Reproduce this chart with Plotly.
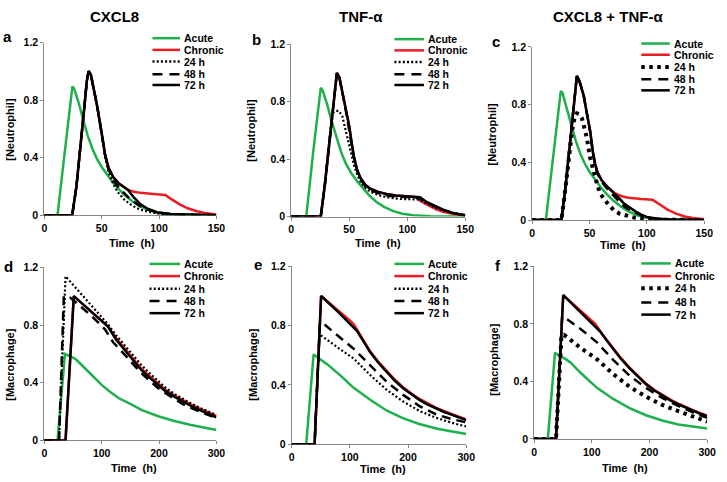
import plotly.graph_objects as go

# ---------------- data ----------------
PANEL_TITLES = ["CXCL8", "TNF-α", "CXCL8 + TNF-α"]
PANEL_LETTERS = ["a", "b", "c", "d", "e", "f"]
SERIES = ["Acute", "Chronic", "24 h", "48 h", "72 h"]
Y_LABELS = ["[Neutrophil]", "[Macrophage]"]
X_TICKS_N = [0, 50, 100, 150]
X_TICKS_M = [0, 100, 200, 300]
Y_TICKS = [0, 0.4, 0.8, 1.2]
Y_TICK_TEXT = ["0", "0.4", "0.8", "1.2"]

# panel a  (CXCL8, neutrophil)
A_ACUTE_T = [0, 11.5, 18, 24.5, 26, 30, 34, 38, 42, 46, 50, 55, 60, 65, 70, 77, 84, 91, 98, 110, 150]
A_ACUTE_Y = [0, 0, 0.45, 0.895, 0.88, 0.78, 0.66, 0.55, 0.46, 0.39, 0.335, 0.28, 0.225, 0.18, 0.14, 0.095, 0.06, 0.035, 0.018, 0.005, 0]
A_72_T = [0, 24.3, 28, 32, 35, 37, 38.6, 40.5, 43, 46, 50, 53, 56, 60, 65, 70, 73, 78, 84, 90, 98, 110, 130, 150]
A_72_Y = [0, 0, 0.2, 0.5, 0.76, 0.93, 1.0, 0.98, 0.89, 0.76, 0.57, 0.42, 0.33, 0.265, 0.22, 0.19, 0.175, 0.123, 0.075, 0.045, 0.02, 0.008, 0.002, 0]
A_CHR_T = [0, 24.3, 28, 32, 35, 37, 38.6, 40.5, 43, 46, 50, 53, 56, 60, 65, 70, 73, 78, 84, 95, 105.5, 110, 118, 125, 133, 140, 150]
A_CHR_Y = [0, 0, 0.2, 0.5, 0.76, 0.93, 1.0, 0.98, 0.89, 0.76, 0.57, 0.42, 0.33, 0.265, 0.22, 0.19, 0.175, 0.163, 0.155, 0.147, 0.14, 0.115, 0.075, 0.048, 0.027, 0.015, 0.005]
A_24_T = [0, 24.3, 28, 32, 35, 37, 38.6, 40.5, 43, 46, 50, 53, 56, 60, 64, 70, 76, 83, 90, 100, 115, 150]
A_24_Y = [0, 0, 0.2, 0.5, 0.76, 0.93, 1.0, 0.98, 0.89, 0.76, 0.57, 0.40, 0.30, 0.22, 0.16, 0.105, 0.07, 0.04, 0.025, 0.01, 0.003, 0]
A_48_T = [0, 24.3, 28, 32, 35, 37, 38.6, 40.5, 43, 46, 50, 53, 56, 60, 65, 70, 75, 83, 90, 100, 115, 150]
A_48_Y = [0, 0, 0.2, 0.5, 0.76, 0.93, 1.0, 0.98, 0.89, 0.76, 0.57, 0.42, 0.32, 0.245, 0.19, 0.15, 0.11, 0.065, 0.04, 0.017, 0.004, 0]

# panel b  (TNF-α, neutrophil)
B_ACUTE_T = [0, 13, 19, 25.5, 27, 31, 35, 39, 43, 47, 52, 57, 62, 67, 73, 80, 88, 96, 105, 120, 150]
B_ACUTE_Y = [0, 0, 0.45, 0.895, 0.88, 0.78, 0.66, 0.55, 0.45, 0.37, 0.30, 0.245, 0.2, 0.15, 0.105, 0.068, 0.038, 0.02, 0.01, 0.002, 0]
B_72_T = [0, 25.5, 29, 33, 36, 38, 39.4, 41.5, 44, 47, 50, 52, 54, 57, 60, 64, 68, 75, 82, 90, 100, 111, 117, 124.5, 131, 138.6, 145, 150]
B_72_Y = [0, 0, 0.22, 0.52, 0.78, 0.93, 1.0, 0.97, 0.875, 0.76, 0.63, 0.52, 0.42, 0.32, 0.265, 0.22, 0.195, 0.172, 0.157, 0.147, 0.14, 0.135, 0.1, 0.07, 0.048, 0.027, 0.015, 0.01]
B_CHR_T = [0, 25.5, 29, 33, 36, 38, 39.4, 41.5, 44, 47, 50, 52, 54, 57, 60, 64, 68, 75, 82, 90, 100, 107, 112, 119, 125, 131, 140, 150]
B_CHR_Y = [0, 0, 0.22, 0.52, 0.78, 0.93, 1.0, 0.97, 0.875, 0.76, 0.63, 0.52, 0.42, 0.32, 0.265, 0.22, 0.195, 0.172, 0.157, 0.147, 0.14, 0.137, 0.105, 0.075, 0.05, 0.033, 0.018, 0.008]
B_24_T = [0, 25.5, 29, 33, 35.3, 38, 41, 44, 47, 50, 52, 54, 57, 60, 65, 71, 78, 86, 95, 105, 111, 117, 124, 131, 139, 150]
B_24_Y = [0, 0, 0.22, 0.52, 0.72, 0.735, 0.735, 0.70, 0.60, 0.51, 0.43, 0.36, 0.29, 0.24, 0.19, 0.163, 0.143, 0.13, 0.123, 0.118, 0.118, 0.09, 0.063, 0.043, 0.025, 0.008]
B_48_T = [0, 25.5, 29, 33, 36, 38, 39.4, 41.5, 44, 47, 50, 52, 54, 57, 60, 64, 68, 75, 82, 90, 100, 110, 117, 124.5, 131, 138.6, 150]
B_48_Y = [0, 0, 0.22, 0.52, 0.78, 0.93, 1.0, 0.97, 0.87, 0.74, 0.6, 0.5, 0.41, 0.315, 0.255, 0.21, 0.185, 0.163, 0.148, 0.14, 0.133, 0.13, 0.097, 0.068, 0.047, 0.026, 0.009]

# panel c  (CXCL8 + TNF-α, neutrophil)
C_ACUTE_T = [0, 12, 18.5, 25, 26.5, 30, 34, 38, 42, 46, 50, 55, 60, 65, 70, 77, 84, 91, 98, 110, 150]
C_ACUTE_Y = [0, 0, 0.45, 0.895, 0.88, 0.78, 0.66, 0.55, 0.46, 0.39, 0.335, 0.28, 0.225, 0.18, 0.14, 0.095, 0.06, 0.035, 0.018, 0.005, 0]
C_72_T = [0, 25.5, 29, 33, 36, 38, 39, 41, 44.9, 47.5, 50.6, 53, 54.9, 57, 60.6, 65, 69, 72, 76, 80, 83.4, 90, 95, 100, 108, 120, 150]
C_72_Y = [0, 0, 0.22, 0.52, 0.78, 0.94, 1.0, 0.97, 0.865, 0.75, 0.616, 0.47, 0.39, 0.33, 0.276, 0.235, 0.205, 0.186, 0.15, 0.115, 0.095, 0.06, 0.038, 0.022, 0.01, 0.003, 0]
C_CHR_T = [0, 25.5, 29, 33, 36, 38, 39, 41, 44.9, 47.5, 50.6, 53, 54.9, 57, 60.6, 65, 69, 72, 78, 84, 95, 105, 110, 118, 125, 133, 140, 150]
C_CHR_Y = [0, 0, 0.22, 0.52, 0.78, 0.94, 1.0, 0.97, 0.865, 0.75, 0.616, 0.47, 0.39, 0.33, 0.276, 0.235, 0.205, 0.186, 0.165, 0.155, 0.146, 0.14, 0.115, 0.072, 0.046, 0.025, 0.014, 0.005]
C_24_T = [0, 25.5, 28, 30.6, 33, 35, 37, 39, 41, 43.4, 45.5, 47.7, 50.6, 52.5, 54.9, 57, 59, 63, 67, 71, 76, 83, 90, 100, 110, 150]
C_24_Y = [0, 0, 0.15, 0.34, 0.5, 0.63, 0.71, 0.74, 0.735, 0.706, 0.64, 0.57, 0.43, 0.36, 0.30, 0.24, 0.19, 0.14, 0.1, 0.07, 0.045, 0.027, 0.015, 0.008, 0.003, 0]
C_48_T = [0, 25.5, 29, 33, 36, 38, 39, 41, 44.9, 47.5, 50.6, 53, 54.9, 57, 60.6, 65, 69, 72, 76, 80, 83.4, 90, 95, 100, 108, 120, 150]
C_48_Y = [0, 0, 0.22, 0.52, 0.78, 0.94, 1.0, 0.97, 0.865, 0.75, 0.61, 0.46, 0.38, 0.32, 0.265, 0.22, 0.185, 0.16, 0.125, 0.095, 0.078, 0.05, 0.032, 0.019, 0.008, 0.002, 0]

# panel d  (CXCL8, macrophage)
D_ACUTE_T = [0, 23, 36, 45, 54, 62, 71, 85, 100, 115, 130, 150, 170, 200, 225, 254, 280, 300]
D_ACUTE_Y = [0, 0, 0.6, 0.585, 0.566, 0.535, 0.50, 0.44, 0.385, 0.335, 0.292, 0.253, 0.21, 0.166, 0.136, 0.108, 0.087, 0.072]
D_72_T = [0, 37, 51.4, 70, 90, 111, 125, 140, 155, 168.6, 185, 197, 210, 225.7, 240, 254, 270, 283, 300]
D_72_Y = [0, 0, 1.0, 0.935, 0.865, 0.79, 0.70, 0.625, 0.555, 0.49, 0.43, 0.387, 0.345, 0.305, 0.272, 0.242, 0.212, 0.19, 0.16]
D_CHR_T = [0, 37, 51.4, 70, 90, 111, 125, 140, 155, 168.6, 185, 197, 210, 225.7, 240, 254, 270, 283, 300]
D_CHR_Y = [0, 0, 1.0, 0.935, 0.865, 0.79, 0.71, 0.635, 0.565, 0.50, 0.44, 0.397, 0.355, 0.315, 0.282, 0.252, 0.222, 0.2, 0.17]
D_24_T = [0, 25.7, 37, 60, 80, 100, 111.4, 125, 140, 155, 168.6, 185, 197, 210, 225.7, 240, 254, 270, 283, 300]
D_24_Y = [0, 0, 1.138, 1.035, 0.945, 0.855, 0.803, 0.73, 0.66, 0.585, 0.525, 0.46, 0.415, 0.37, 0.325, 0.29, 0.26, 0.228, 0.205, 0.176]
D_48_T = [0, 25.7, 34, 45, 60, 83, 105.7, 120, 140, 155, 168.6, 185, 197, 210, 225.7, 240, 254, 270, 283, 300]
D_48_Y = [0, 0, 1.0, 0.99, 0.94, 0.86, 0.77, 0.68, 0.595, 0.525, 0.468, 0.41, 0.367, 0.33, 0.288, 0.255, 0.228, 0.2, 0.18, 0.155]

# panel e  (TNF-α, macrophage)
E_ACUTE_T = [0, 25, 37.7, 50, 62, 85, 107, 135, 163, 191, 219.5, 250, 275, 300]
E_ACUTE_Y = [0, 0, 0.606, 0.57, 0.537, 0.46, 0.379, 0.3, 0.228, 0.176, 0.137, 0.105, 0.086, 0.07]
E_72_T = [0, 39.4, 50.6, 78.8, 112.5, 125, 135, 150, 163, 177, 191, 205, 219.5, 233, 247.6, 262, 275.7, 290, 300]
E_72_Y = [0, 0, 1.0, 0.896, 0.764, 0.685, 0.62, 0.545, 0.49, 0.43, 0.38, 0.338, 0.30, 0.27, 0.242, 0.218, 0.198, 0.178, 0.163]
E_CHR_T = [0, 39.4, 50.6, 78, 100, 107, 118, 135, 150, 163, 177, 191, 205, 219.5, 233, 247.6, 262, 275.7, 290, 300]
E_CHR_Y = [0, 0, 1.0, 0.91, 0.835, 0.808, 0.74, 0.627, 0.552, 0.497, 0.437, 0.387, 0.344, 0.306, 0.276, 0.248, 0.223, 0.203, 0.183, 0.167]
E_24_T = [0, 39.4, 47.7, 52, 80, 107, 135, 163, 191, 219.5, 247.6, 275, 300]
E_24_Y = [0, 0, 0.74, 0.73, 0.65, 0.577, 0.467, 0.368, 0.29, 0.225, 0.18, 0.145, 0.12]
E_48_T = [0, 39.4, 48.6, 53, 80, 107, 135, 163, 191, 219.5, 247.6, 275, 300]
E_48_Y = [0, 0, 0.82, 0.82, 0.73, 0.643, 0.533, 0.423, 0.335, 0.258, 0.203, 0.17, 0.148]

# panel f  (CXCL8 + TNF-α, macrophage)
F_ACUTE_T = [0, 23.8, 36.3, 45, 55, 63.5, 80.5, 109, 137, 165.6, 194, 222, 250, 275, 300]
F_ACUTE_Y = [0, 0, 0.6, 0.575, 0.555, 0.53, 0.46, 0.355, 0.278, 0.215, 0.165, 0.128, 0.1, 0.085, 0.072]
F_72_T = [0, 38, 50.5, 80.5, 114.6, 125, 137, 150, 165.6, 180, 194, 208, 222, 236, 250, 262, 275, 288, 300]
F_72_Y = [0, 0, 1.0, 0.88, 0.747, 0.69, 0.625, 0.56, 0.49, 0.432, 0.38, 0.338, 0.30, 0.268, 0.24, 0.218, 0.195, 0.175, 0.158]
F_CHR_T = [0, 38, 50.5, 80.5, 106, 118, 137, 150, 165.6, 180, 194, 208, 222, 236, 250, 262, 275, 288, 300]
F_CHR_Y = [0, 0, 1.0, 0.895, 0.80, 0.73, 0.63, 0.565, 0.495, 0.437, 0.385, 0.342, 0.305, 0.273, 0.245, 0.222, 0.2, 0.18, 0.162]
F_24_T = [0, 38, 47.5, 52, 80.5, 109, 137, 165.6, 194, 222, 250.7, 275, 300]
F_24_Y = [0, 0, 0.72, 0.724, 0.633, 0.554, 0.452, 0.362, 0.294, 0.237, 0.192, 0.155, 0.12]
F_48_T = [0, 38, 48.6, 52, 80.5, 109, 137, 165.6, 194, 222, 250.7, 275, 300]
F_48_Y = [0, 0, 0.85, 0.848, 0.765, 0.672, 0.55, 0.44, 0.355, 0.285, 0.228, 0.185, 0.147]

# ---------------- styling ----------------
W, H = 727, 482
FONT = "Liberation Sans, Arial, sans-serif"
GREEN = "#1db04b"
RED = "#ec1c24"
BLACK = "#000000"
AXIS = "#888888"


def px(x):
    return x / W


def py(y):
    return 1 - y / H


panels = [
    dict(xd=(42, 217), yd=(37.5, 214.5), xmax=150, xt=X_TICKS_N, big=False,
         data=[(A_ACUTE_T, A_ACUTE_Y), (A_CHR_T, A_CHR_Y), (A_24_T, A_24_Y), (A_48_T, A_48_Y), (A_72_T, A_72_Y)],
         letter=(5, 31), ylab=(7, 126), xlab=(131, 243),
         leg=dict(x0=152, x1=180, tx=182, ys=[33, 45, 57, 70, 81])),
    dict(xd=(293, 470), yd=(39, 216), xmax=150, xt=X_TICKS_N, big=False,
         data=[(B_ACUTE_T, B_ACUTE_Y), (B_CHR_T, B_CHR_Y), (B_24_T, B_24_Y), (B_48_T, B_48_Y), (B_72_T, B_72_Y)],
         letter=(258, 34), ylab=(252, 127), xlab=(381, 243),
         leg=dict(x0=398, x1=428, tx=430, ys=[34, 45.5, 57.5, 70, 81])),
    dict(xd=(538, 713), yd=(42, 219.5), xmax=150, xt=X_TICKS_N, big=True,
         data=[(C_ACUTE_T, C_ACUTE_Y), (C_CHR_T, C_CHR_Y), (C_24_T, C_24_Y), (C_48_T, C_48_Y), (C_72_T, C_72_Y)],
         letter=(501, 36), ylab=(497, 131), xlab=(630, 245),
         leg=dict(x0=649, x1=678, tx=680, ys=[38.5, 50, 62.5, 75, 86.5])),
    dict(xd=(42, 217), yd=(268, 445.5), xmax=300, xt=X_TICKS_M, big=False,
         data=[(D_ACUTE_T, D_ACUTE_Y), (D_CHR_T, D_CHR_Y), (D_24_T, D_24_Y), (D_48_T, D_48_Y), (D_72_T, D_72_Y)],
         letter=(6, 267), ylab=(7, 368), xlab=(133, 474),
         leg=dict(x0=149, x1=180, tx=182, ys=[264.5, 277, 290, 302.5, 315])),
    dict(xd=(293.5, 471), yd=(267, 449.5), xmax=300, xt=X_TICKS_M, big=False,
         data=[(E_ACUTE_T, E_ACUTE_Y), (E_CHR_T, E_CHR_Y), (E_24_T, E_24_Y), (E_48_T, E_48_Y), (E_72_T, E_72_Y)],
         letter=(259, 265), ylab=(254, 368), xlab=(386, 475),
         leg=dict(x0=398, x1=428, tx=430, ys=[264.5, 277, 290, 302.5, 315])),
    dict(xd=(540, 716), yd=(267, 444), xmax=300, xt=X_TICKS_M, big=True,
         data=[(F_ACUTE_T, F_ACUTE_Y), (F_CHR_T, F_CHR_Y), (F_24_T, F_24_Y), (F_48_T, F_48_Y), (F_72_T, F_72_Y)],
         letter=(503, 266), ylab=(499, 363), xlab=(632, 474),
         leg=dict(x0=649, x1=679, tx=681, ys=[264, 277, 289.5, 304, 316.5])),
]


def style(k, big, legend=False):
    if k == 0:
        return dict(color=GREEN, width=2.5)
    if k == 1:
        return dict(color=RED, width=2.5)
    if k == 2:
        if big:
            return dict(color=BLACK, width=4, dash="3.5px,4.5px")
        return dict(color=BLACK, width=2.5 if legend else 2.2, dash="2px,2.2px")
    if k == 3:
        return dict(color=BLACK, width=2.5, dash="10px,7px" if legend else "9px,6px")
    return dict(color=BLACK, width=2.5)


fig = go.Figure()
layout = dict(width=W, height=H, margin=dict(l=0, r=0, t=0, b=0),
              paper_bgcolor="white", plot_bgcolor="white", showlegend=False)
annotations = []
shapes = []

for i, p in enumerate(panels):
    n = i + 1
    xa = "x" if n == 1 else f"x{n}"
    ya = "y" if n == 1 else f"y{n}"
    for k, (t, v) in enumerate(p["data"]):
        fig.add_trace(go.Scatter(x=t, y=v, mode="lines", name=SERIES[k],
                                 line=style(k, p["big"]), xaxis=xa, yaxis=ya,
                                 hoverinfo="skip"))
    axcommon = dict(showgrid=False, zeroline=False, showline=True, linecolor=AXIS,
                    linewidth=1, ticks="outside", ticklen=3, tickcolor=AXIS,
                    tickfont=dict(family=FONT, size=10.5, color="black", weight="bold"),
                    layer="below traces", fixedrange=True)
    layout["xaxis" if n == 1 else f"xaxis{n}"] = dict(
        axcommon, domain=[px(p["xd"][0]), px(p["xd"][1])], range=[0, p["xmax"]],
        tickvals=p["xt"], ticktext=[str(v) for v in p["xt"]], anchor=ya)
    layout["yaxis" if n == 1 else f"yaxis{n}"] = dict(
        axcommon, domain=[py(p["yd"][1]), py(p["yd"][0])], range=[0, 1.2],
        tickvals=Y_TICKS, ticktext=Y_TICK_TEXT, anchor=xa)

    annotations.append(dict(text=PANEL_LETTERS[i], x=px(p["letter"][0]), y=py(p["letter"][1]),
                            xref="paper", yref="paper", showarrow=False, xanchor="center",
                            yanchor="middle",
                            font=dict(family=FONT, size=15, color="black", weight="bold")))
    annotations.append(dict(text=Y_LABELS[i // 3], x=px(p["ylab"][0]), y=py(p["ylab"][1]),
                            xref="paper", yref="paper", showarrow=False, textangle=-90,
                            xanchor="center", yanchor="middle",
                            font=dict(family=FONT, size=11, color="black", weight="bold")))
    annotations.append(dict(text="Time\u00a0 (h)", x=px(p["xlab"][0]), y=py(p["xlab"][1]),
                            xref="paper", yref="paper", showarrow=False,
                            xanchor="center", yanchor="middle",
                            font=dict(family=FONT, size=11, color="black", weight="bold")))
    lg = p["leg"]
    for k, yy in enumerate(lg["ys"]):
        st = style(k, p["big"], legend=True)
        shapes.append(dict(type="line", xref="paper", yref="paper",
                           x0=px(lg["x0"]), x1=px(lg["x1"]), y0=py(yy), y1=py(yy),
                           line=dict(color=st["color"], width=st["width"],
                                     dash=st.get("dash", "solid"))))
        annotations.append(dict(text=SERIES[k], x=px(lg["tx"]), y=py(yy), xref="paper", yref="paper",
                                showarrow=False, xanchor="left", yanchor="middle",
                                font=dict(family=FONT, size=10.5, color="black", weight="bold")))

for title, cx in zip(PANEL_TITLES, [113, 364, 615]):
    annotations.append(dict(text=title, x=px(cx), y=py(11), xref="paper", yref="paper",
                            showarrow=False, xanchor="center", yanchor="middle",
                            font=dict(family=FONT, size=15, color="black", weight="bold")))

layout["annotations"] = annotations
layout["shapes"] = shapes
fig.update_layout(**layout)
fig.write_html("out.html", config={"displayModeBar": False},
               post_script="document.body.style.margin='0';document.body.style.overflow='hidden';")
